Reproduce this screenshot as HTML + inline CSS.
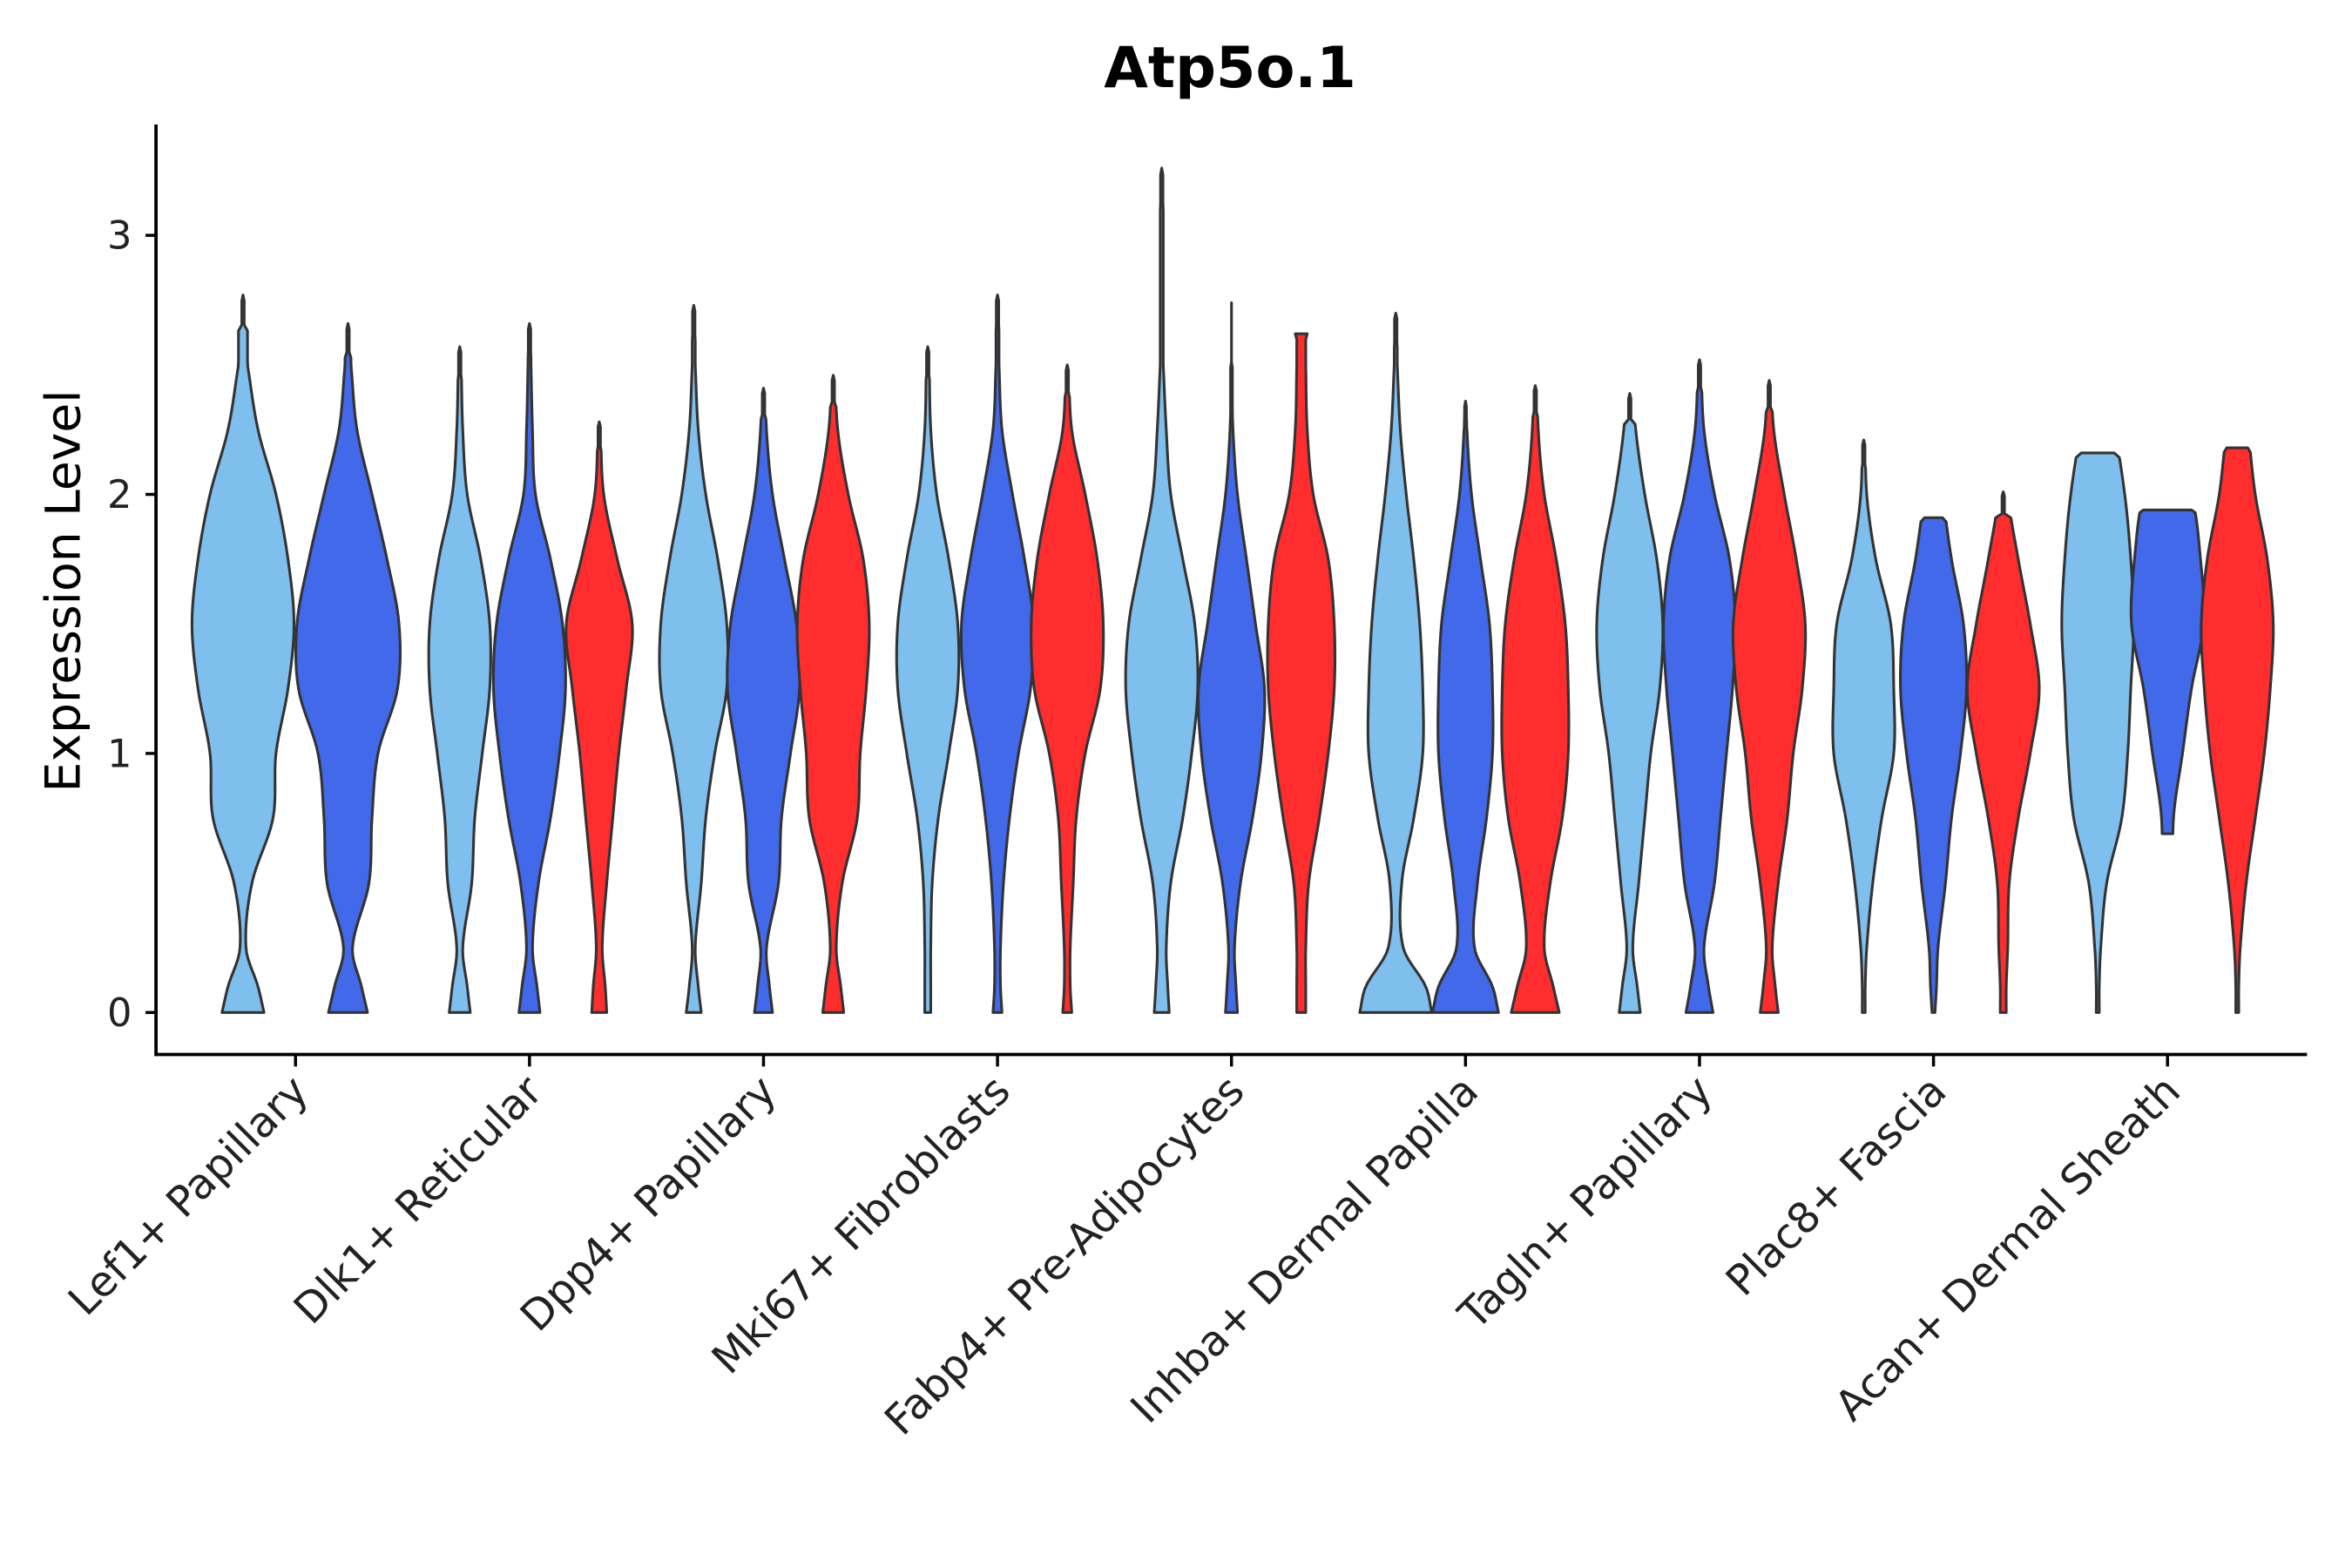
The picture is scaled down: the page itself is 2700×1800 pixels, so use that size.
<!DOCTYPE html>
<html><head><meta charset="utf-8"><style>
html,body{margin:0;padding:0;background:#fff;}
svg{display:block;font-family:"DejaVu Sans","Liberation Sans",sans-serif;}
</style></head><body>
<svg id="chart" width="2700" height="1800" viewBox="0 0 1568 1045.33" xmlns="http://www.w3.org/2000/svg">
<rect width="1568" height="1046" fill="#fff"/>
<text x="820" y="58" text-anchor="middle" font-size="38" font-weight="bold">Atp5o.1</text>
<text transform="translate(53,394) rotate(-90)" text-anchor="middle" font-size="32">Expression Level</text>
<g id="violins"></g>
<g id="axes"></g>
</svg>
<script>
const categories = ["Lef1+ Papillary","Dlk1+ Reticular","Dpp4+ Papillary","Mki67+ Fibroblasts","Fabp4+ Pre-Adipocytes","Inhba+ Dermal Papilla","Tagln+ Papillary","Plac8+ Fascia","Acan+ Dermal Sheath"];
const yTicks = [0,1,2,3];
const levels = [0,0.1,0.25,0.5,0.75,1,1.25,1.5,1.75,2,2.25,2.5];
const violinGroup = [0,0, 1,1,1, 2,2,2, 3,3,3, 4,4,4, 5,5,5, 6,6,6, 7,7,7, 8,8,8];
const violinSplit = [0,1, 0,1,2, 0,1,2, 0,1,2, 0,1,2, 0,1,2, 0,1,2, 0,1,2, 0,1,2];
const violinMin = [0,0, 0,0,0, 0,0,0, 0,0,0, 0,0,0, 0,0,0, 0,0,0, 0,0,0, 0,0.69,0];
const violinMax = [2.77,2.66, 2.57,2.66,2.28, 2.73,2.41,2.46, 2.57,2.77,2.5, 3.26,2.74,2.62, 2.7,2.36,2.42, 2.39,2.52,2.44, 2.21,1.91,2.01, 2.16,1.94,2.18];
const violinTopW = [0,0, 0,0,0, 0,0,0, 0,0,0, 0,0,4, 0,0,0, 0,0,0, 0,6,0, 11,16,7];
const violinDensity = [
 [14,10,2,6,20,22,30,34,30,22,10,3],
 [13,9,3,14,16,20,33,34,26,16,6,2],
 [7,5,2,8,10,15,20,20,14,5,2,1],
 [7,5,2,6,14,20,24,22,14,4,2,1],
 [5,4,2,5,9,13,18,22,12,3,1,0],
 [5,3,1,5,8,14,22,22,16,8,3,1],
 [6,4,2,10,12,18,24,22,14,6,2,1],
 [7,5,2,6,16,18,22,24,20,10,3,1],
 [2,2,2,3,7,14,20,20,14,6,2,1],
 [3,2,2,4,8,14,22,24,18,10,3,1],
 [3,2,2,4,6,12,22,24,20,12,3,1],
 [5,4,3,6,14,20,24,22,14,6,3,1],
 [4,3,2,6,14,20,22,16,10,4,1,0],
 [3,3,3,5,12,18,22,22,18,8,4,3],
 [24,20,5,4,12,18,18,16,12,7,3,1],
 [22,18,6,8,14,18,18,16,10,4,1,0],
 [16,12,6,10,18,22,22,20,14,6,2,1],
 [7,5,2,6,10,14,20,22,18,10,4,1],
 [9,6,3,10,14,18,22,24,20,10,3,1],
 [6,4,2,6,12,16,22,24,18,10,3,1],
 [1,1,2,6,12,20,20,18,8,2,1,0],
 [1,2,3,8,12,18,22,20,12,6,0,0],
 [2,2,3,4,10,18,24,18,10,3,1,0],
 [1,1,2,6,16,20,22,24,22,18,11,0],
 [4,4,4,4,4,10,16,24,22,16,0,0],
 [1,1,2,6,12,18,22,24,20,12,7,0]
];
const colors = ["#7FBFED","#4169E9","#FF2D2D"];
const NS = "http://www.w3.org/2000/svg";
const X0=104, X1=1538, Ytop=83, Ybot=703;
const yScale = v => 675 - 172.7*v;
const xBand = i => 197 + 156*i;
function splitOffset(g, s){ const n = violinGroup.filter(x=>x===g).length; return n===2 ? (s===0?-35:35) : (s-1)*46.5; }
function interp(arr, v){
  const n=levels.length;
  for(let i=0;i<n-1;i++){
    if(v>=levels[i]&&v<=levels[i+1]){
      const h=levels[i+1]-levels[i], t=(v-levels[i])/h;
      const p0=arr[i], p1=arr[i+1];
      const m0 = i>0 ? (arr[i+1]-arr[i-1])/(levels[i+1]-levels[i-1])*h : (p1-p0);
      const m1 = i+2<n ? (arr[i+2]-arr[i])/(levels[i+2]-levels[i])*h : (p1-p0);
      const t2=t*t,t3=t2*t;
      const r=(2*t3-3*t2+1)*p0+(t3-2*t2+t)*m0+(-2*t3+3*t2)*p1+(t3-t2)*m1;
      return Math.max(0.6, Math.min(Math.max(p0,p1)+1, r));
    }
  }
  return arr[n-1];
}
const vg = document.getElementById('violins');
for(let k=0;k<violinGroup.length;k++){
  const cx = xBand(violinGroup[k]) + splitOffset(violinGroup[k], violinSplit[k]);
  const mn=violinMin[k], mx=violinMax[k], d=violinDensity[k];
  const pts=[];
  const steps=120;
  for(let j=0;j<=steps;j++){
    const v=mn+(mx-mn)*j/steps;
    let w = j===steps ? violinTopW[k] : interp(d,v);
    if(violinTopW[k]===0 && j>steps-6) w=Math.min(w,0.8);
    pts.push([v,w]);
  }
  const right=pts.map(p=>[cx+p[1], yScale(p[0])]);
  const left=pts.slice().reverse().map(p=>[cx-p[1], yScale(p[0])]);
  const all=right.concat(left);
  const path=document.createElementNS(NS,'path');
  path.setAttribute('d','M'+all.map(p=>p[0].toFixed(2)+','+p[1].toFixed(2)).join('L')+'Z');
  path.setAttribute('fill',colors[violinSplit[k]]);
  path.setAttribute('stroke','#333');
  path.setAttribute('stroke-width','1.8');
  path.setAttribute('stroke-linejoin','round');
  
  
  vg.appendChild(path);
}
const ag=document.getElementById('axes');
function mk(tag,attrs,parent){const e=document.createElementNS(NS,tag);for(const a in attrs)e.setAttribute(a,attrs[a]);parent.appendChild(e);return e;}
let e;
e=mk('line',{x1:X0,y1:Ytop,x2:X0,y2:Ybot+1,stroke:'#000','stroke-width':2.2},ag);


e=mk('line',{x1:X0-1,y1:Ybot,x2:X1,y2:Ybot,stroke:'#000','stroke-width':2.2},ag);


yTicks.forEach(t=>{
  const y=yScale(t);
  let l=mk('line',{x1:X0-7,y1:y,x2:X0,y2:y,stroke:'#000','stroke-width':2},ag);
  
  
  let tx=mk('text',{x:X0-16,y:y+9,'text-anchor':'end','font-size':26,fill:'#222'},ag);
  tx.textContent=t;
  
  
});
categories.forEach((c,i)=>{
  const x=xBand(i);
  let l=mk('line',{x1:x,y1:Ybot,x2:x,y2:Ybot+8,stroke:'#000','stroke-width':2},ag);
  
  
  let tx=mk('text',{transform:'translate('+(x+10)+','+(Ybot+26)+') rotate(-45)','text-anchor':'end','font-size':28,fill:'#222'},ag);
  tx.textContent=c;
  
  
});
</script>
</body></html>
